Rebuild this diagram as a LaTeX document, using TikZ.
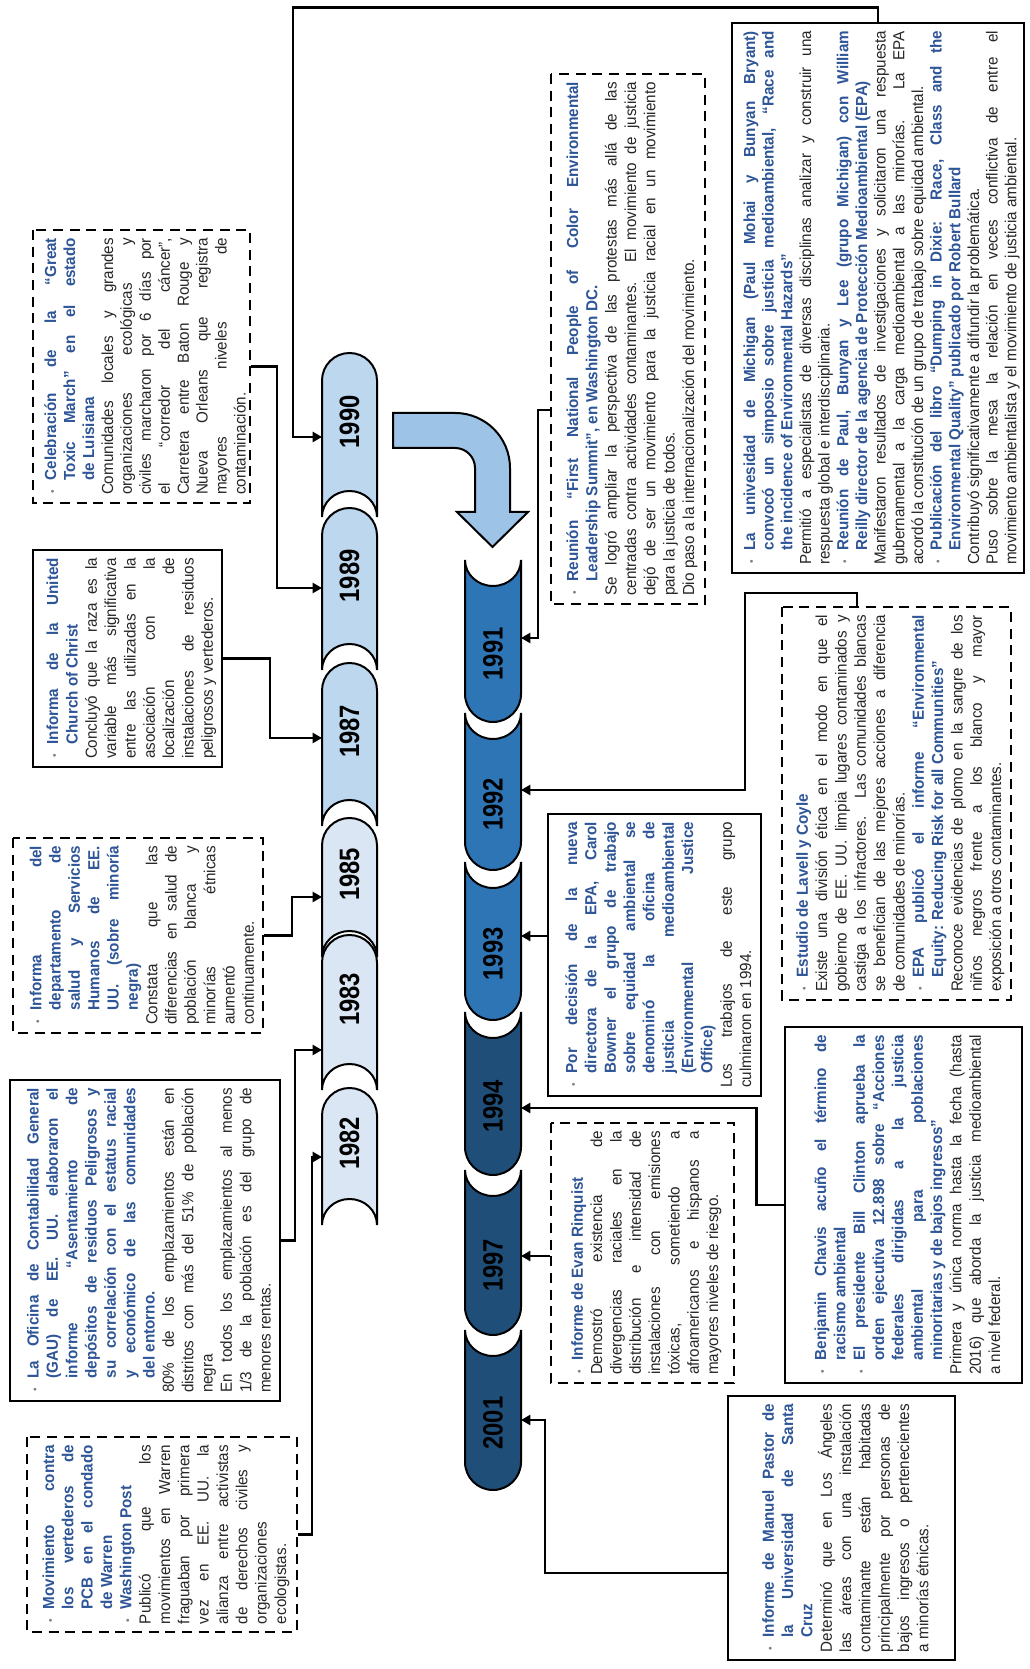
\documentclass[tikz,border=0pt]{standalone}
\usepackage{fontspec}
\setmainfont[FakeStretch=0.95]{Liberation Sans}
\newfontfamily\yearfont[FakeStretch=0.85]{Liberation Sans}
\usepackage{xcolor}
\usetikzlibrary{arrows.meta}

\definecolor{hdblue}{HTML}{2E5597}
\definecolor{txtgray}{HTML}{262626}
\definecolor{yrlight}{HTML}{BDD7EE}
\definecolor{yrpale}{HTML}{DAE6F3}
\definecolor{yrmid}{HTML}{2E75B6}
\definecolor{yrdark}{HTML}{1F4E79}
\definecolor{turnblue}{HTML}{9DC3E6}

\newcommand\bitem[1]{\par\hangindent=11pt\hangafter=1\noindent\makebox[11pt][l]{\hspace{1pt}\textcolor{gray}{\footnotesize\textbullet}}{\color{hdblue}\bfseries #1}\par}

\begin{document}
\begin{tikzpicture}[
    x=0.75pt, y=0.75pt, rotate=90, transform shape,
    evbox/.style={draw, line width=2pt, fill=white, inner xsep=6pt, inner ysep=2pt,
        align=justify, text=txtgray, font=\fontsize{12}{14.5}\selectfont,
        execute at begin node={\parindent=0pt\tolerance=10000\hbadness=10000\hyphenpenalty=10000}},
    dashbox/.style={evbox, dash pattern=on 7.5pt off 5pt},
    seg/.style={draw, line width=1.5pt},
    yr/.style={font=\yearfont\bfseries\fontsize{21}{21}\selectfont},
    conn/.style={line width=2pt, -{Triangle[length=7pt,width=7.5pt]}}
]
\useasboundingbox (0,0) rectangle (1669,-1029);

% upper row
\foreach \a/\b/\yr/\col in {1152/1316/1990/yrlight, 999/1161/1989/yrlight, 843/1006/1987/yrlight,
    712/851/1985/yrpale, 579/734/1983/yrpale, 444/581/1982/yrpale}{
  \filldraw[seg, fill=\col] (\a,-322) -- (\b-27.5,-322) arc[start angle=90, end angle=-90, radius=27.5]
    -- (\a,-377) arc[start angle=-90, end angle=90, x radius=26, y radius=27.5] -- cycle;
  \node[yr] (y\yr) at ({(\a+26+\b)/2},-349.5) {\yr};
}

% lower row
\foreach \p/\h/\yr/\col in {947/1109/1991/yrmid, 799/956/1992/yrmid, 649/807/1993/yrmid,
    494/657/1994/yrdark, 334/499/1997/yrdark, 179/339/2001/yrdark}{
  \filldraw[seg, fill=\col] (\h,-465) -- (\p+28,-465) arc[start angle=90, end angle=270, radius=28]
    -- (\h,-521) arc[start angle=-90, end angle=-270, x radius=26, y radius=28] -- cycle;
  \node[yr] (y\yr) at ({(\p+\h-26)/2},-493) {\yr};
}

\filldraw[seg, fill=turnblue] (1256,-393) -- (1256,-455) arc[start angle=0, end angle=-90, radius=55]
    -- (1157,-510) -- (1157,-528) -- (1122,-492.5) -- (1157,-457) -- (1157,-475)
    -- (1201,-475) arc[start angle=-90, end angle=0, radius=20] -- (1221,-393) -- cycle;

\node[dashbox, text width=134.25pt, minimum height=202.5pt] (warren) at (134.5,-162) {%
\bitem{Movimiento contra\linebreak los vertederos de\linebreak PCB en el condado\linebreak de Warren}
\bitem{Washington Post}
Publicó que los\linebreak movimientos en Warren\linebreak fraguaban por primera\linebreak vez en EE. UU. la\linebreak alianza entre activistas\linebreak de derechos civiles y\linebreak organizaciones\linebreak ecologistas.};

\node[evbox, text width=228.75pt, minimum height=202.5pt] (gao) at (428.5,-145) {%
\bitem{La Oficina de Contabilidad General\linebreak (GAU) de EE. UU. elaboraron el\linebreak informe “Asentamiento de\linebreak depósitos de residuos Peligrosos y\linebreak su correlación con el estatus racial\linebreak y económico de las comunidades\linebreak del entorno.}
80\% de los emplazamientos están en\linebreak distritos con más del 51\% de población\linebreak negra\par
En todos los emplazamientos al menos\linebreak 1/3 de la población es del grupo de\linebreak menores rentas.};

\node[dashbox, text width=134.25pt, minimum height=187.5pt] (salud) at (733.5,-138) {%
\bitem{Informa del\linebreak departamento de\linebreak salud y Servicios\linebreak Humanos de EE.\linebreak UU. (sobre minoría\linebreak negra)}
Constata que las\linebreak diferencias en salud de\linebreak población blanca y\linebreak minorías étnicas\linebreak aumentó\linebreak continuamente.};

\node[evbox, text width=150.75pt, minimum height=141.75pt] (church) at (1010.5,-127.5) {%
\bitem{Informa de la United\linebreak Church of Christ}
Concluyó que la raza es la\linebreak variable más significativa\linebreak entre las utilizadas en la\linebreak asociación con la\linebreak localización de\linebreak instalaciones de residuos\linebreak peligrosos y vertederos.};

\node[dashbox, text width=192.75pt, minimum height=162.75pt, font=\fontsize{12}{14.2}\selectfont] (toxic) at (1302.5,-141.5) {%
\bitem{Celebración de la “Great\linebreak Toxic March” en el estado\linebreak de Luisiana}
Comunidades locales y grandes\linebreak organizaciones ecológicas y\linebreak civiles marcharon por 6 días por\linebreak el “corredor del cáncer”,\linebreak Carretera entre Baton Rouge y\linebreak Nueva Orleans que registra\linebreak mayores niveles de\linebreak contaminación.};

\node[evbox, text width=400.5pt, minimum height=219pt, font=\fontsize{12}{14}\selectfont] (michigan) at (1371,-878) {%
\bitem{La univesidad de Michigan (Paul Mohai y Bunyan Bryant)\linebreak convocó un simposio sobre justicia medioambiental, “Race and\linebreak the incidence of Environmental Hazards”}
Permitió a especialistas de diversas disciplinas analizar y construir una\linebreak respuesta global e interdisciplinaria.
\bitem{Reunión de Paul, Bunyan y Lee (grupo Michigan) con William\linebreak Reilly director de la agencia de Protección Medioambiental (EPA)}
Manifestaron resultados de investigaciones y solicitaron una respuesta\linebreak gubernamental a la carga medioambiental a las minorías. La EPA\linebreak acordó la constitución de un grupo de trabajo sobre equidad ambiental.
\bitem{Publicación del libro “Dumping in Dixie: Race, Class and the\linebreak Environmental Quality” publicado por Robert Bullard}
Contribuyó significativamente a difundir la problemática.\par
Puso sobre la mesa la relación en veces conflictiva de entre el\linebreak movimiento ambientalista y el movimiento de justicia ambiental.};

\node[dashbox, text width=385.5pt, minimum height=115.5pt] (summit) at (1330,-628) {%
\bitem{Reunión “First National People of Color Environmental\linebreak Leadership Summit”, en Washington DC.}
Se logró ampliar la perspectiva de las protestas más allá de las\linebreak centradas contra actividades contaminantes. El movimiento de justicia\linebreak dejó de ser un movimiento para la justicia racial en un movimiento\linebreak para la justicia de todos.\par
Dio paso a la internacionalización del movimiento.};

\node[dashbox, text width=282.75pt, minimum height=171.75pt] (lavell) at (865.5,-896.5) {%
\bitem{Estudio de Lavell y Coyle}
Existe una división ética en el modo en que el\linebreak gobierno de EE. UU. limpia lugares contaminados y\linebreak castiga a los infractores. Las comunidades blancas\linebreak se benefician de las mejores acciones a diferencia\linebreak de comunidades de minorías.
\bitem{EPA publicó el informe “Environmental\linebreak Equity: Reducing Risk for all Communities”}
Reconoce evidencias de plomo en la sangre de los\linebreak niños negros frente a los blanco y mayor\linebreak exposición a otros contaminantes.};

\node[evbox, text width=199.5pt, minimum height=159.75pt] (ejoffice) at (714,-654.5) {%
\bitem{Por decisión de la nueva\linebreak directora de la EPA, Carol\linebreak Bowner el grupo de trabajo\linebreak sobre equidad ambiental se\linebreak denominó la oficina de\linebreak justicia medioambiental\linebreak (Environmental Justice\linebreak Office)}
Los trabajos de este grupo\linebreak culminaron en 1994.};

\node[evbox, text width=255pt, minimum height=177.75pt] (chavis) at (464,-903.5) {%
\bitem{Benjamin Chavis acuño el término de\linebreak racismo ambiental}
\bitem{El presidente Bill Clinton aprueba la\linebreak orden ejecutiva 12.898 sobre “Acciones\linebreak federales dirigidas a la justicia\linebreak ambiental para poblaciones\linebreak minoritarias y de bajos ingresos”}
Primera y única norma hasta la fecha (hasta\linebreak 2016) que aborda la justicia medioambiental\linebreak a nivel federal.};

\node[dashbox, text width=183pt, minimum height=137.25pt] (rinquist) at (416,-642.5) {%
\bitem{Informe de Evan Rinquist}
Demostró existencia de\linebreak divergencias raciales en la\linebreak distribución e intensidad de\linebreak instalaciones con emisiones\linebreak tóxicas, sometiendo a\linebreak afroamericanos e hispanos a\linebreak mayores niveles de riesgo.};

\node[evbox, text width=186pt, minimum height=170.25pt] (pastor) at (141,-841.5) {%
\bitem{Informe de Manuel Pastor de\linebreak la Universidad de Santa\linebreak Cruz}
Determinó que en Los Ángeles\linebreak las áreas con una instalación\linebreak contaminante están habitadas\linebreak principalmente por personas de\linebreak bajos ingresos o pertenecientes\linebreak a minorías étnicas.};

\coordinate (t82) at (512,-322);
\coordinate (t83) at (619,-322);
\coordinate (t85) at (772,-322);
\coordinate (t87) at (931,-322);
\coordinate (t89) at (1081,-322);
\coordinate (t90) at (1232,-322);
\coordinate (t91) at (1031,-521);
\coordinate (t92) at (879,-521);
\coordinate (t93) at (733,-521);
\coordinate (t94) at (561,-521);
\coordinate (t97) at (413,-521);
\coordinate (t01) at (249,-521);

\draw[conn] (warren.south) -- (warren.south |- 0,-312) -| (t82);
\draw[conn] (gao.south) -- (gao.south |- 0,-295) -| (t83);
\draw[conn] (salud.south) -- (salud.south |- 0,-292) -| (t85);
\draw[conn] (church.south) -- (church.south |- 0,-270) -| (t87);
\draw[conn] (toxic.south) -- (toxic.south |- 0,-277) -| (t89);
\draw[conn] (michigan.east) -- ++(14,0) |- (t90 |- 0,-293) -- (t90);
\draw[conn] (summit.north -| 1259,0) -- (1259,-538) -| (t91);
\draw[conn] (lavell.east |- 0,-857) -- (1076,-857) |- (t92 |- 0,-745) -- (t92);
\draw[conn] (ejoffice.north -| t93) -- (t93);
\draw[conn] (chavis.north) -- ++(0,27) -| (t94);
\draw[conn] (rinquist.north -| t97) -- (t97);
\draw[conn] (pastor.north -| 96,0) -- (96,-545) -| (t01);

\end{tikzpicture}
\end{document}
